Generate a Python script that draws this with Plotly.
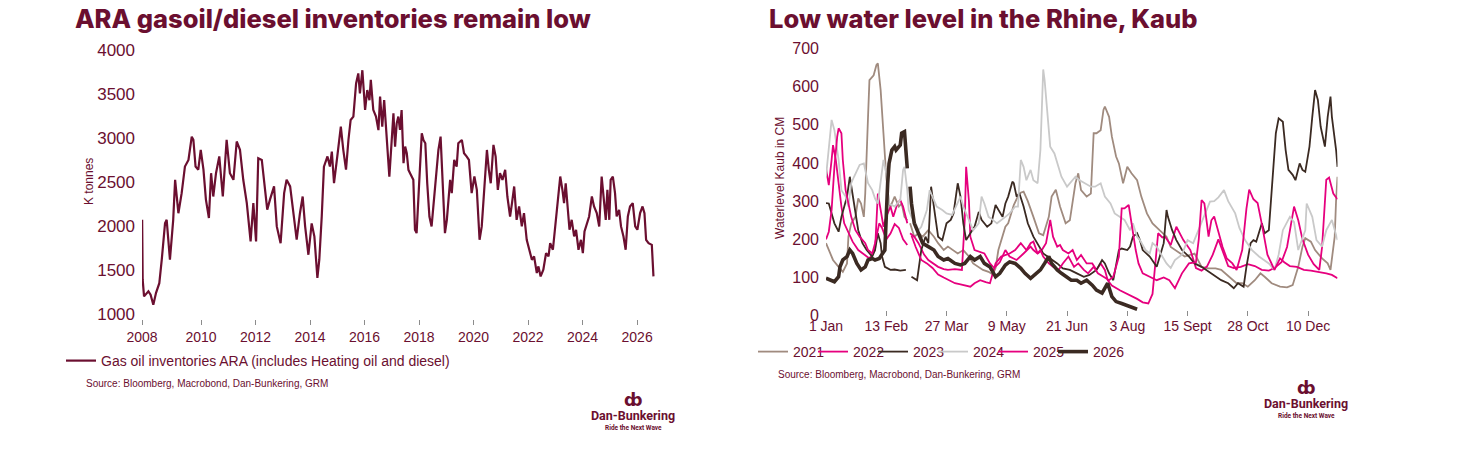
import plotly.graph_objects as go

W, H = 1482, 466
PAGE_OFFSET = 8  # the page body margin shifts the figure by this many pixels
MAROON = "#6b0f30"
SANS = "Liberation Sans, Arial, sans-serif"

# ---- left chart: ARA gasoil/diesel inventories, k tonnes (decimal year) ----
ara_year = [2007.84, 2007.86, 2007.91, 2008.07, 2008.15, 2008.25, 2008.35, 2008.47, 2008.56, 2008.68,
            2008.74, 2008.86, 2008.98, 2009.05, 2009.17, 2009.29, 2009.41, 2009.54, 2009.66, 2009.72,
            2009.80, 2009.90, 2009.99, 2010.09, 2010.18, 2010.29, 2010.37, 2010.45, 2010.55, 2010.67,
            2010.80, 2010.94, 2011.06, 2011.19, 2011.31, 2011.43, 2011.55, 2011.68, 2011.82, 2011.92,
            2012.02, 2012.10, 2012.23, 2012.35, 2012.43, 2012.53, 2012.68, 2012.78, 2012.92, 2013.05,
            2013.14, 2013.27, 2013.39, 2013.51, 2013.63, 2013.73, 2013.82, 2013.94, 2014.06, 2014.16,
            2014.27, 2014.34, 2014.43, 2014.51, 2014.64, 2014.73, 2014.80, 2014.88, 2015.00, 2015.13,
            2015.22, 2015.32, 2015.41, 2015.49, 2015.59, 2015.69, 2015.77, 2015.83, 2015.92, 2016.02,
            2016.10, 2016.18, 2016.23, 2016.32, 2016.42, 2016.51, 2016.57, 2016.65, 2016.72, 2016.81,
            2016.91, 2017.06, 2017.12, 2017.18, 2017.24, 2017.30, 2017.36, 2017.43, 2017.49, 2017.55,
            2017.61, 2017.67, 2017.79, 2017.85, 2017.91, 2018.01, 2018.10, 2018.16, 2018.23, 2018.30,
            2018.38, 2018.46, 2018.55, 2018.62, 2018.71, 2018.79, 2018.87, 2018.95, 2019.02, 2019.14,
            2019.20, 2019.29, 2019.38, 2019.44, 2019.57, 2019.65, 2019.75, 2019.83, 2019.93, 2020.03,
            2020.12, 2020.22, 2020.30, 2020.39, 2020.49, 2020.56, 2020.63, 2020.73, 2020.81, 2020.89,
            2020.97, 2021.06, 2021.16, 2021.24, 2021.34, 2021.41, 2021.49, 2021.58, 2021.67, 2021.77,
            2021.85, 2021.95, 2022.05, 2022.14, 2022.22, 2022.32, 2022.38, 2022.46, 2022.56, 2022.66,
            2022.75, 2022.81, 2022.91, 2022.99, 2023.08, 2023.18, 2023.26, 2023.32, 2023.38, 2023.46,
            2023.52, 2023.60, 2023.69, 2023.76, 2023.85, 2023.94, 2024.01, 2024.07, 2024.16, 2024.24,
            2024.34, 2024.42, 2024.52, 2024.61, 2024.70, 2024.79, 2024.85, 2024.91, 2024.98, 2025.03,
            2025.11, 2025.19, 2025.25, 2025.34, 2025.41, 2025.50, 2025.58, 2025.66, 2025.74, 2025.84,
            2025.93, 2026.01, 2026.11, 2026.20, 2026.27, 2026.33, 2026.42, 2026.54, 2026.60]
ara_kt = [2070, 1390, 1200, 1257, 1220, 1105, 1240, 1350, 1617, 2030,
          2070, 1617, 2070, 2525, 2145, 2373, 2675, 2750, 3015, 2980,
          2675, 2640, 2865, 2640, 2300, 2090, 2600, 2335, 2600, 2790,
          2335, 2980, 2600, 2525, 2960, 2865, 2525, 2260, 1825, 2260,
          1825, 2770, 2750, 2373, 2185, 2300, 2450, 1995, 1805, 2373,
          2525, 2450, 2145, 1845, 2145, 2335, 1995, 1673, 2030, 1880,
          1410, 1617, 2110, 2675, 2790, 2675, 2845, 2486, 2790, 3130,
          2865, 2640, 2980, 3205, 3243, 3620, 3734, 3507, 3770, 3320,
          3545, 3430, 3660, 3320, 3243, 3090, 3470, 3130, 3430, 3015,
          2560, 3280, 2900, 3167, 3243, 3091, 3318, 2713, 2902, 2827,
          2638, 2600, 2524, 1957, 1919, 2524, 3054, 2978, 2940, 2486,
          2108, 1995, 2297, 2562, 2864, 3016, 2449, 1919, 2070, 2524,
          2373, 2751, 2675, 2940, 2978, 2827, 2789, 2751, 2373, 2562,
          2411, 1843, 1995, 2449, 2864, 2638, 2486, 2921, 2789, 2411,
          2600, 2524, 2638, 2335, 2108, 2260, 2449, 2070, 2222, 1995,
          2146, 1843, 1730, 1616, 1654, 1465, 1541, 1427, 1503, 1692,
          1654, 1805, 1730, 1957, 2260, 2562, 2411, 2260, 2486, 2222,
          1957, 2070, 1881, 1957, 1730, 1843, 1692, 1938, 2032, 2108,
          2335, 2222, 2146, 1995, 2562, 2297, 2070, 2411, 2070, 2524,
          2562, 2373, 2108, 2184, 1995, 1881, 1730, 2108, 2222, 2260,
          1995, 1957, 2146, 2222, 2146, 1843, 1805, 1786, 1427]
ara_ticks = [2007.835, 2010, 2012, 2014, 2016, 2018, 2020, 2022, 2024, 2026]
ara_ticktext = ["2008", "2010", "2012", "2014", "2016", "2018", "2020", "2022", "2024", "2026"]

# ---- right chart: Rhine water level at Kaub, cm, by day of (leap) year ----
days_2021 = [0, 3, 5, 9, 12, 15, 16, 18, 21, 23, 25, 27, 28, 30, 31, 34, 36, 37, 39, 41, 43, 45, 46, 49, 52,
             54, 56, 58, 59, 60, 63, 66, 69, 73, 77, 80, 84, 87, 91, 94, 98, 102, 105, 109, 112, 116, 119,
             121, 123, 128, 130, 134, 138, 141, 144, 148, 152, 155, 159, 161, 164, 167, 171, 174, 178, 180,
             182, 186, 189, 191, 193, 196, 198, 199, 202, 204, 207, 209, 212, 215, 218, 222, 225, 229, 233,
             238, 243, 246, 249, 256, 263, 268, 273, 278, 282, 288, 293, 297, 301, 306, 310, 313, 318, 324,
             329, 333, 337, 340, 342, 346, 349, 354, 358, 360, 363, 364, 365]
kaub_2021 = [190, 163, 146, 128, 115, 137, 207, 242, 259, 307, 294, 259, 320, 521, 617, 630, 657, 661, 591,
             478, 364, 294, 286, 312, 286, 294, 259, 250, None, 242, 207, 216, 207, 224, 207, 190, 172, 181,
             172, 163, 172, 155, 137, 128, 120, 115, 108, 125, 172, 233, 242, 290, 321, 325, 300, 259, 216,
             211, 259, 312, 330, 286, 242, 250, 347, 373, 329, 312, 320, 478, 478, 486, 539, 548, 521, 469,
             417, 399, 347, 390, 373, 355, 312, 268, 242, 224, 207, 180, 172, 155, 163, 128, 124, 124, 120,
             102, 85, 85, 76, 93, 111, 102, 85, 76, 74, 80, 128, 181, 203, 194, 172, 150, 137, 120, 207,
             303, 364]

days_2022 = [0, 2, 4, 5, 7, 9, 11, 13, 16, 19, 23, 28, 31, 35, 37, 39, 41, 43, 46, 48, 51, 53, 55, 58, 59,
             60, 63, 66, 70, 73, 77, 80, 84, 87, 92, 97, 99, 100, 102, 103, 106, 110, 113, 117, 120, 124,
             128, 131, 136, 141, 146, 148, 151, 154, 157, 160, 161, 162, 165, 167, 169, 173, 176, 179, 182,
             186, 190, 193, 196, 199, 201, 204, 210, 215, 222, 226, 230, 233, 235, 237, 240, 242, 246, 250,
             255, 260, 264, 268, 272, 276, 280, 283, 287, 291, 296, 301, 306, 311, 316, 320, 325, 329, 332,
             334, 337, 340, 344, 348, 352, 354, 357, 359, 362, 365]
kaub_2022 = [386, 342, 408, 447, 408, 347, 286, 242, 220, 194, 172, 159, 150, 172, 320, 277, 233, 259, 286,
             259, 294, 303, 286, 242, None, 216, 207, 190, 160, 146, 135, 128, 122, 120, 122, 120, 250, 390,
             300, 207, 172, 168, 163, 137, 125, 140, 172, 155, 146, 163, 181, 172, 163, 172, 190, 251, 224,
             207, 181, 185, 172, 163, 172, 146, 159, 137, 137, 120, 137, 120, 93, 79, 66, 57, 44, 35, 32, 57,
             128, 216, 205, 207, 185, 233, 198, 172, 125, 118, 130, 160, 200, 170, 130, 125, 128, 135, 130,
             120, 118, 125, 140, 180, 250, 286, 250, 200, 160, 135, 120, 180, 356, 362, 320, 305]

days_2023 = [0, 2, 6, 9, 11, 15, 17, 19, 21, 23, 26, 29, 33, 35, 37, 39, 40, 42, 46, 49, 53, 57, 59, 61,
             65, 68, 71, 73, 75, 78, 80, 83, 86, 89, 91, 94, 96, 98, 100, 103, 106, 109, 111, 115, 118, 121,
             123, 126, 128, 130, 133, 134, 136, 138, 141, 144, 148, 152, 155, 160, 165, 169, 174, 179, 184,
             188, 193, 197, 199, 202, 205, 209, 211, 215, 217, 219, 222, 224, 226, 231, 236, 241, 243, 244,
             247, 250, 254, 259, 263, 268, 273, 278, 282, 287, 291, 294, 298, 300, 303, 305, 307, 311, 313,
             316, 318, 321, 323, 326, 328, 330, 333, 335, 338, 340, 342, 345, 347, 349, 351, 353, 356, 358,
             360, 361, 364, 365]
kaub_2023 = [295, 294, 242, 220, 259, 312, 364, 320, 277, 224, 190, 172, 155, 172, 216, 190, 155, 128, 120,
             121, 118, 120, None, 102, 93, 172, 207, 190, 338, 259, 207, 198, 242, 251, 268, 347, 312, 242,
             198, 216, 233, 272, 251, 233, 242, 290, 277, 259, 294, 312, 351, 347, 312, 321, 286, 242, 207,
             181, 163, 150, 137, 124, 120, 111, 102, 107, 120, 146, 137, 111, 93, 172, 176, 172, 181, 207,
             216, 198, 172, 155, 128, 190, 277, 259, 224, 198, 172, 155, 137, 128, 115, 102, 93, 85, 72, 85,
             76, 128, 190, 198, 194, 242, 216, 224, 320, 478, 517, 508, 434, 382, 369, 355, 399, 382, 377,
             443, 521, 591, 565, 495, 443, 521, 574, 521, 434, 390]

days_2024 = [0, 3, 4, 6, 9, 11, 14, 16, 18, 20, 22, 24, 27, 30, 33, 35, 37, 40, 41, 43, 45, 49, 53, 55, 56,
             58, 59, 61, 64, 66, 68, 72, 74, 77, 79, 83, 86, 90, 93, 96, 98, 102, 105, 109, 111, 113, 116,
             119, 122, 128, 131, 135, 137, 139, 141, 143, 146, 148, 151, 153, 154, 155, 156, 158, 160, 163,
             165, 168, 172, 174, 178, 181, 185, 189, 192, 196, 199, 203, 206, 210, 213, 217, 219, 222, 224,
             228, 231, 233, 236, 240, 243, 246, 249, 254, 258, 262, 266, 270, 274, 277, 280, 284, 287, 292,
             295, 299, 304, 309, 316, 320, 323, 326, 331, 334, 337, 342, 343, 347, 350, 354, 357, 361, 363,
             365]
kaub_2024 = [364, 478, 513, 486, 408, 329, 312, 286, 347, 364, 380, 395, 399, 347, 329, 307, 294, 382, 408,
             373, 294, 286, 303, 382, 390, 329, 277, 259, 242, 224, 233, 277, 329, 303, 286, 277, 268, 264,
             286, 312, 286, 251, 224, 242, 312, 294, 259, 251, 242, 259, 268, 286, 286, 408, 390, 355, 382,
             355, 347, 434, 565, 645, 617, 521, 443, 425, 399, 364, 338, 347, 364, 355, 347, 338, 338, 347,
             312, 294, 268, 259, 251, 224, 242, 207, 198, 172, 163, 190, 181, 155, 137, 125, 146, 160, 198,
             190, 225, 262, 299, 300, 310, 329, 300, 268, 230, 198, 172, 155, 137, 120, 160, 224, 259, 245,
             172, 224, 294, 259, 198, 181, 224, 251, 224, 198]

days_2025 = [0, 2, 4, 6, 8, 9, 11, 12, 14, 16, 18, 21, 24, 28, 30, 33, 35, 38, 40, 43, 46, 49, 52, 55, 58,
             59, 61, 64, 68, 72, 76, 80, 84, 88, 92, 96, 99, 103, 106, 110, 114, 117, 121, 125, 131, 135,
             139, 143, 146, 148, 151, 153, 155, 159, 162, 166, 169, 173, 177, 180, 184, 187, 191, 194, 198,
             202, 205, 209, 211, 213, 216, 218, 221, 223, 226, 231, 236, 241, 245, 249, 254, 259, 264, 266,
             268, 270, 273, 275, 277, 280, 283, 286, 290, 293, 297, 300, 302, 305, 308, 311, 315, 320, 324,
             327, 331, 336, 341, 346, 351, 357, 361, 365]
kaub_2025 = [200, 220, 277, 390, 469, 491, 478, 408, 329, 294, 259, 224, 207, 190, 172, 163, 190, 242, 230,
             200, 215, 240, 230, 200, 185, None, 210, 180, 146, 137, 125, 108, 100, 93, 85, 82, 80, 76, 85,
             93, 88, 85, 137, 155, 163, 172, 190, 172, 190, 194, 163, 172, 155, 137, 128, 120, 137, 155,
             128, 137, 120, 111, 128, 111, 102, 93, 102, 155, 281, 281, 290, 242, 172, 137, 111, 102, 93,
             100, 93, 72, 111, 137, 140, 200, 303, 294, 207, 250, 260, 220, 180, 150, 137, 120, 172, 280,
             330, 305, 295, 240, 160, 120, 150, 140, 130, 128, 120, 118, 115, 111, 107, 98]

days_2026 = [0, 3, 6, 9, 10, 12, 15, 17, 19, 22, 25, 28, 30, 33, 35, 38, 42, 44, 45, 47, 49, 50, 53, 54,
             56, 57, 58, 59, 60, 61, 63, 66, 69, 73, 77, 80, 84, 87, 92, 96, 99, 103, 106, 110, 113, 117,
             121, 124, 128, 131, 135, 139, 142, 146, 149, 153, 156, 159, 161, 165, 168, 172, 175, 179, 182,
             186, 190, 193, 197, 199, 201, 204, 207, 211, 214, 218, 222]
kaub_2026 = [98, 93, 89, 102, 128, 146, 155, 172, 163, 137, 120, 128, 146, 150, 146, 150, 172, 347, 399,
             434, 443, 434, 447, 478, 482, 434, 386, None, 338, 294, 242, 216, 190, 181, 172, 155, 146, 150,
             137, 133, 137, 155, 146, 155, 137, 128, 102, 111, 133, 141, 137, 124, 111, 98, 107, 120, 137,
             155, 137, 120, 111, 102, 93, 93, 85, 93, 80, 67, 59, 72, 85, 50, 37, 32, 28, 24, 17]

kaub_ticks = [0, 43, 86, 129, 172, 215, 258, 301, 344]
kaub_ticktext = ["1 Jan", "13 Feb", "27 Mar", "9 May", "21 Jun", "3 Aug", "15 Sept", "28 Oct", "10 Dec"]


def fx(p):
    return (p - PAGE_OFFSET) / W


def fy(p):
    return 1 - (p - PAGE_OFFSET) / H


fig = go.Figure()

fig.add_trace(go.Scatter(x=ara_year, y=ara_kt, mode="lines",
                         name="Gas oil inventories ARA (includes Heating oil and diesel)",
                         line=dict(color=MAROON, width=2.2),
                         xaxis="x", yaxis="y", legend="legend"))

rhine = [("2021", days_2021, kaub_2021, "#a08b7f", 1.8),
         ("2022", days_2022, kaub_2022, "#e6007e", 1.8),
         ("2023", days_2023, kaub_2023, "#3b2a22", 1.8),
         ("2024", days_2024, kaub_2024, "#c9c9c9", 1.8),
         ("2025", days_2025, kaub_2025, "#e6007e", 1.8),
         ("2026", days_2026, kaub_2026, "#3b2a22", 3.6)]
for name, d, v, col, w in rhine:
    fig.add_trace(go.Scatter(x=d, y=v, mode="lines", name=name,
                             line=dict(color=col, width=w), connectgaps=False,
                             xaxis="x2", yaxis="y2", legend="legend2"))
# empty spacer entry so the fixed-width legend does not clip the "2026" label
fig.add_trace(go.Scatter(x=[None], y=[None], mode="lines", name=" ",
                         line=dict(color="rgba(0,0,0,0)", width=0), hoverinfo="skip",
                         xaxis="x2", yaxis="y2", legend="legend2"))

xtick_font = dict(family=SANS, size=14, color=MAROON)
legend_font = dict(family=SANS, size=14, color=MAROON)

fig.update_layout(
    width=W, height=H,
    margin=dict(l=0, r=0, t=0, b=0, autoexpand=False),
    paper_bgcolor="white", plot_bgcolor="white",
    xaxis=dict(domain=[fx(142), fx(657)], range=[2007.835, 2026.73], anchor="y",
               tickvals=ara_ticks, ticktext=ara_ticktext, automargin=False,
               ticks="outside", ticklen=5, tickcolor="#8c8c8c", tickwidth=1,
               showgrid=False, zeroline=False, showline=False, tickfont=xtick_font),
    yaxis=dict(domain=[fy(319), fy(50)], range=[943, 4000], anchor="x", automargin=False,
               tickvals=[1000, 1500, 2000, 2500, 3000, 3500, 4000],
               showgrid=False, zeroline=False, showline=False, ticks="",
               ticklabelstandoff=6, tickfont=dict(family=SANS, size=17, color=MAROON)),
    xaxis2=dict(domain=[fx(826), fx(1337.5)], range=[0, 365], anchor="y2", automargin=False,
                tickvals=kaub_ticks, ticktext=kaub_ticktext,
                ticks="inside", ticklen=5, tickcolor="#8c8c8c", tickwidth=1,
                showgrid=False, zeroline=False, showline=False, tickfont=xtick_font),
    yaxis2=dict(domain=[fy(315.7), fy(48.5)], range=[0, 700], anchor="x2", automargin=False,
                tickvals=[0, 100, 200, 300, 400, 500, 600, 700],
                showgrid=False, zeroline=False, showline=False, ticks="",
                ticklabelstandoff=6, tickfont=dict(family=SANS, size=16, color=MAROON)),
    legend=dict(x=fx(61), y=fy(361), xanchor="left", yanchor="middle",
                orientation="h", font=legend_font, itemwidth=30,
                bgcolor="rgba(0,0,0,0)", borderwidth=0),
    legend2=dict(x=fx(753), y=fy(352), xanchor="left", yanchor="middle",
                 orientation="h", font=legend_font, itemwidth=30, entrywidth=15,
                 bgcolor="rgba(0,0,0,0)", borderwidth=0),
    showlegend=True,
)

title_font = dict(family="Inter, Roboto, sans-serif", size=25.5, color=MAROON, weight=800)
notes = [
    dict(text="ARA gasoil/diesel inventories remain low", x=fx(73), y=fy(18.8),
         xanchor="left", yanchor="middle", font=title_font),
    dict(text="Low water level in the Rhine, Kaub", x=fx(767), y=fy(18.3),
         xanchor="left", yanchor="middle", font=title_font),
    dict(text="K tonnes", x=fx(89), y=fy(182), textangle=-90,
         xanchor="center", yanchor="middle", font=dict(family=SANS, size=12, color=MAROON)),
    dict(text="Waterlevel Kaub in CM", x=fx(780), y=fy(178), textangle=-90,
         xanchor="center", yanchor="middle", font=dict(family=SANS, size=12, color=MAROON)),
    dict(text="Source: Bloomberg, Macrobond, Dan-Bunkering, GRM", x=fx(84), y=fy(383),
         xanchor="left", yanchor="middle", font=dict(family=SANS, size=10, color=MAROON)),
    dict(text="Source: Bloomberg, Macrobond, Dan-Bunkering, GRM", x=fx(776), y=fy(374),
         xanchor="left", yanchor="middle", font=dict(family=SANS, size=10, color=MAROON)),
]
# Dan-Bunkering logos
for cx, cy in [(633, 415), (1306, 403)]:
    notes.append(dict(text="ȸ", x=fx(cx), y=fy(cy - 15), xanchor="center", yanchor="middle",
                      font=dict(family="DejaVu Sans", size=17, color=MAROON, weight="bold")))
    notes.append(dict(text="Dan-Bunkering", x=fx(cx), y=fy(cy), xanchor="center", yanchor="middle",
                      font=dict(family="Roboto", size=12.5, color=MAROON, weight="bold")))
    notes.append(dict(text="Ride the Next Wave", x=fx(cx), y=fy(cy + 12.5), xanchor="center",
                      yanchor="middle", font=dict(family="Roboto", size=6.5, color=MAROON, weight="bold")))

for a in notes:
    a.update(xref="paper", yref="paper", showarrow=False)
    fig.add_annotation(**a)

fig.write_html("out.html")
